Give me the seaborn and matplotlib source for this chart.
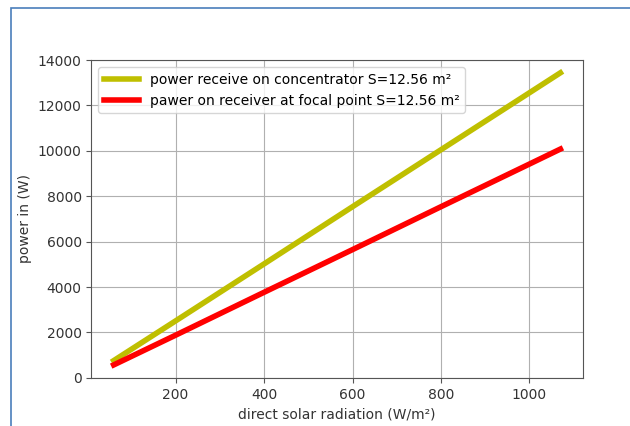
import numpy as np
import pandas as pd
import seaborn as sns
import matplotlib.pyplot as plt
from matplotlib.patches import Rectangle

# direct solar radiation (W/m²) and powers (W)
RADIATION = [60, 200, 400, 600, 800, 1000, 1070]
POWER_CONCENTRATOR = [760, 2510, 5020, 7540, 10050, 12560, 13440]
POWER_RECEIVER = [570, 1880, 3770, 5650, 7540, 9420, 10080]

LABEL_CONC = "power receive on concentrator S=12.56 m²"
LABEL_RECV = "pawer on receiver at focal point S=12.56 m²"


def main():
    df = pd.DataFrame({
        "radiation": RADIATION,
        "conc": POWER_CONCENTRATOR,
        "recv": POWER_RECEIVER,
    })

    plt.rcParams["font.family"] = ["DejaVu Sans"]
    fig = plt.figure(figsize=(6.3, 4.26), dpi=100)
    ax = fig.add_axes([0.145, 0.113, 0.78, 0.746])

    sns.lineplot(data=df, x="radiation", y="conc", color="y", linewidth=4,
                 label=LABEL_CONC, ax=ax)
    sns.lineplot(data=df, x="radiation", y="recv", color="r", linewidth=4,
                 label=LABEL_RECV, ax=ax)

    ax.set_xlabel("direct solar radiation (W/m²)", fontsize=10, color="#333333")
    ax.set_ylabel("power in (W)", fontsize=10, color="#333333")
    ax.tick_params(labelsize=10, labelcolor="#333333", color="#555555")
    ax.set_yticks(np.arange(0, 14001, 2000))
    ax.set_xticks([200, 400, 600, 800, 1000])
    ax.set_ylim(0, 14000)
    ax.grid(True, color="#b0b0b0", linewidth=0.8)
    for s in ax.spines.values():
        s.set_color("#555555")
    ax.legend(loc="upper left", fontsize=10, handlelength=2.5)

    # blue picture border (top and left edges)
    fig.patches.append(Rectangle((11 / 630, -0.1), 1.2, 1 - 8 / 426 + 0.1,
                                 transform=fig.transFigure, fill=False,
                                 edgecolor="#4a7ebb", linewidth=1.2))

    fig.savefig("out.png", dpi=100)


if __name__ == "__main__":
    main()
